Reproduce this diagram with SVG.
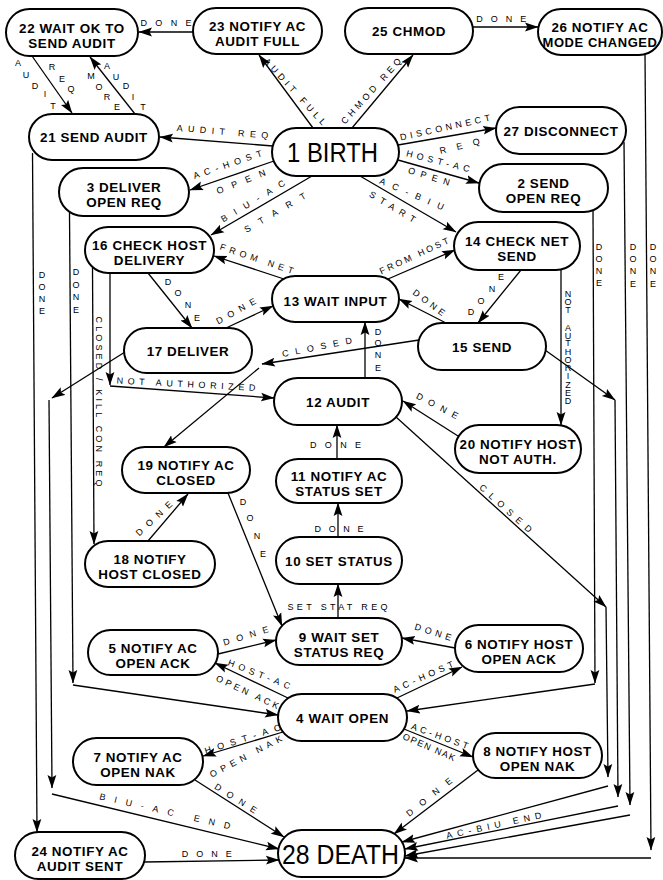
<svg xmlns="http://www.w3.org/2000/svg" width="663" height="880" viewBox="0 0 663 880">
<defs>
<marker id="ah" markerWidth="14" markerHeight="10" refX="13" refY="5" orient="auto" markerUnits="userSpaceOnUse"><path d="M0,0.6 L13.5,5 L0,9.4 L2.5,5 z" fill="#000"/></marker>
</defs>
<style>
.node rect{fill:#fff;stroke:#000;stroke-width:2}
.node text{font-family:"Liberation Sans",Arial,sans-serif;font-weight:bold;font-size:13.4px;letter-spacing:0.6px;text-anchor:middle;fill:#000}
.node text.big{font-weight:normal;font-size:28px;letter-spacing:0}
#edges path{fill:none;stroke:#000;stroke-width:1.3;marker-end:url(#ah)}
.lb{font-family:"Liberation Sans",Arial,sans-serif;font-size:9px;text-anchor:middle;fill:#000}
</style>
<rect width="663" height="880" fill="#fff"/>

<!-- transitions -->
<g id="edges">
<path d="M193,32 L139,32"/>
<path d="M32,56 L72,113"/>
<path d="M135,114 L90,57"/>
<path d="M313,128 L259,55"/>
<path d="M352,128 L413,55"/>
<path d="M473,27 L538,27"/>
<path d="M273,146 L160,137"/>
<path d="M274,161 L190,190"/>
<path d="M312,176 L211,235"/>
<path d="M398,145 L496,128"/>
<path d="M398,160 L479,183"/>
<path d="M360,176 L456,232"/>
<path d="M32.5,153 L37,832"/>
<path d="M69.5,213 L73,683"/>
<path d="M73,685 L278,715"/>
<path d="M92.5,268 L94,544"/>
<path d="M110,273 L110,385"/>
<path d="M110,386 L274,398"/>
<path d="M148,273 L192,328"/>
<path d="M226,328 L273,306"/>
<path d="M284,279 L214,256"/>
<path d="M388,279 L455,250"/>
<path d="M521,270 L478,323"/>
<path d="M446,323 L399,299"/>
<path d="M419,340 L262,364"/>
<path d="M259,368 L164,447"/>
<path d="M365,378 L365,322"/>
<path d="M337,459 L337,425"/>
<path d="M338,537 L338,503"/>
<path d="M338,618 L338,584"/>
<path d="M228,493 L282,626"/>
<path d="M148,541 L188,494"/>
<path d="M218,654 L276,640"/>
<path d="M455,648 L402,638"/>
<path d="M396,417 L606,607"/>
<path d="M606,607 L608,777"/>
<path d="M608,786 L402,842"/>
<path d="M458,436 L403,401"/>
<path d="M561,270 L561,425"/>
<path d="M545,350 L615,400"/>
<path d="M615,400 L618,797"/>
<path d="M618,806 L405,849"/>
<path d="M125,352 L52,398"/>
<path d="M49,400 L52,788"/>
<path d="M52,794 L279,849"/>
<path d="M593,210 L595,683"/>
<path d="M595,684 L407,711"/>
<path d="M624,142 L630,805"/>
<path d="M630,815 L405,856"/>
<path d="M645,54 L651,850"/>
<path d="M651,858 L405,858"/>
<path d="M288,698 L215,663"/>
<path d="M397,698 L462,667"/>
<path d="M283,732 L203,756"/>
<path d="M404,729 L473,757"/>
<path d="M195,780 L284,837"/>
<path d="M478,770 L394,834"/>
<path d="M144,862 L279,860"/>
</g>

<!-- transition labels -->
<g id="labels">
<text class="lb" transform="translate(166 23)" y="3.2" textLength="51" lengthAdjust="spacing">DONE</text>
<text class="lb" x="18 26 35 45 53 52 52 62 71" y="66.2 78.2 89.2 97.2 109.2 70.2 70.2 82.2 92.2">AUDIT REQ</text>
<text class="lb" x="91 99 107 117 107 107 116 126 133 143" y="79.2 90.2 100.2 110.2 69.2 69.2 80.2 89.2 100.2 110.2">MORE AUDIT</text>
<text class="lb" transform="translate(295 91.5) rotate(47.5)" y="3.2" textLength="87" lengthAdjust="spacing">AUDIT FULL</text>
<text class="lb" transform="translate(371 91) rotate(-48)" y="3.2" textLength="85" lengthAdjust="spacing">CHMOD REQ</text>
<text class="lb" transform="translate(222.5 131.5) rotate(4.7)" y="3.2" textLength="92" lengthAdjust="spacing">AUDIT REQ</text>
<text class="lb" transform="translate(227.5 164.5) rotate(-18.7)" y="3.2" textLength="72" lengthAdjust="spacing">AC-HOST</text>
<text class="lb" transform="translate(241 181.7) rotate(-21.8)" y="3.2" textLength="52" lengthAdjust="spacing">OPEN</text>
<text class="lb" transform="translate(253 201) rotate(-31)" y="3.2" textLength="73" lengthAdjust="spacing">BIU-AC</text>
<text class="lb" transform="translate(275 212.5) rotate(-30.3)" y="3.2" textLength="70" lengthAdjust="spacing">START</text>
<text class="lb" transform="translate(445 127.5) rotate(-12.5)" y="3.2" textLength="92" lengthAdjust="spacing">DISCONNECT</text>
<text class="lb" transform="translate(459.7 146) rotate(-14)" y="3.2" textLength="41" lengthAdjust="spacing">REQ</text>
<text class="lb" transform="translate(438 161) rotate(14.3)" y="3.2" textLength="65" lengthAdjust="spacing">HOST-AC</text>
<text class="lb" transform="translate(429 176.3) rotate(17)" y="3.2" textLength="43" lengthAdjust="spacing">OPEN</text>
<text class="lb" transform="translate(411.7 193.8) rotate(23.2)" y="3.2" textLength="69" lengthAdjust="spacing">AC-BIU</text>
<text class="lb" transform="translate(392.5 206.7) rotate(31)" y="3.2" textLength="52" lengthAdjust="spacing">START</text>
<text class="lb" transform="translate(501.3 18.3)" y="3.2" textLength="50" lengthAdjust="spacing">DONE</text>
<text class="lb" x="42 42 42 42" y="278.2 290.2 302.2 314.2">DONE</text>
<text class="lb" x="76 76 76 76" y="275.2 287.7 300.2 312.7">DONE</text>
<text class="lb" transform="translate(99 401.5) rotate(90)" y="3.2" textLength="170" lengthAdjust="spacing">CLOSED / KILL CON REQ</text>
<text class="lb" transform="translate(186 384) rotate(3)" y="3.2" textLength="139" lengthAdjust="spacing">NOT AUTHORIZED</text>
<text class="lb" x="168 178 188 197" y="285.2 296.2 308.2 321.2">DONE</text>
<text class="lb" transform="translate(236 311) rotate(-29)" y="3.2" textLength="44" lengthAdjust="spacing">DONE</text>
<text class="lb" transform="translate(256.7 258.7) rotate(18.8)" y="3.2" textLength="77" lengthAdjust="spacing">FROM NET</text>
<text class="lb" transform="translate(414 255.8) rotate(-24.8)" y="3.2" textLength="75" lengthAdjust="spacing">FROM HOST</text>
<text class="lb" x="471 481 492 501" y="315.2 304.2 292.2 280.2">DONE</text>
<text class="lb" transform="translate(429 302.5) rotate(37)" y="3.2" textLength="37.5" lengthAdjust="spacing">DONE</text>
<text class="lb" transform="translate(317 347) rotate(-11)" y="3.2" textLength="71" lengthAdjust="spacing">CLOSED</text>
<text class="lb" x="378 378 378 378" y="335.2 346.2 358.2 371.2">DONE</text>
<text class="lb" transform="translate(335.5 445)" y="3.2" textLength="51" lengthAdjust="spacing">DONE</text>
<text class="lb" transform="translate(339 528.3)" y="3.2" textLength="49" lengthAdjust="spacing">DONE</text>
<text class="lb" transform="translate(337.5 606.7)" y="3.2" textLength="100" lengthAdjust="spacing">SET STAT REQ</text>
<text class="lb" x="243 250 257 263" y="505.2 521.2 539.2 557.2">DONE</text>
<text class="lb" transform="translate(154 518.5) rotate(-43)" y="3.2" textLength="46" lengthAdjust="spacing">DONE</text>
<text class="lb" transform="translate(245.8 635.8) rotate(-17)" y="3.2" textLength="47" lengthAdjust="spacing">DONE</text>
<text class="lb" transform="translate(433 632) rotate(17.6)" y="3.2" textLength="38" lengthAdjust="spacing">DONE</text>
<text class="lb" transform="translate(505.8 508.3) rotate(42)" y="3.2" textLength="67" lengthAdjust="spacing">CLOSED</text>
<text class="lb" transform="translate(437.3 405.8) rotate(27.8)" y="3.2" textLength="46" lengthAdjust="spacing">DONE</text>
<text class="lb" x="568 568 568 568 568 568 568 568 568 568 568 568 568 568" y="297.2 305.2 313.2 322 331.2 339.2 346.2 355.2 363.2 371.2 379.2 388.2 396.2 404.2">NOT AUTHORIZED</text>
<text class="lb" x="599 599 599 599" y="250.2 262.2 274.2 286.2">DONE</text>
<text class="lb" x="633 633 633 633" y="250.2 262.2 274.2 287.2">DONE</text>
<text class="lb" x="653 653 653 653" y="250.2 262.2 274.2 287.2">DONE</text>
<text class="lb" transform="translate(259.2 674.2) rotate(21.5)" y="3.2" textLength="66" lengthAdjust="spacing">HOST-AC</text>
<text class="lb" transform="translate(247.5 692) rotate(25)" y="3.2" textLength="68" lengthAdjust="spacing">OPEN ACK</text>
<text class="lb" transform="translate(423.2 676.7) rotate(-23.7)" y="3.2" textLength="65" lengthAdjust="spacing">AC-HOST</text>
<text class="lb" transform="translate(242.5 739) rotate(-17.6)" y="3.2" textLength="79" lengthAdjust="spacing">HOST-AC</text>
<text class="lb" transform="translate(245.8 756.3) rotate(-27.6)" y="3.2" textLength="80" lengthAdjust="spacing">OPEN NAK</text>
<text class="lb" transform="translate(439.8 736) rotate(19.6)" y="3.2" textLength="60" lengthAdjust="spacing">AC-HOST</text>
<text class="lb" transform="translate(429 747) rotate(23.5)" y="3.2" textLength="56" lengthAdjust="spacing">OPEN NAK</text>
<text class="lb" transform="translate(235.8 798.3) rotate(32)" y="3.2" textLength="48" lengthAdjust="spacing">DONE</text>
<text class="lb" transform="translate(429 797) rotate(-38.8)" y="3.2" textLength="56" lengthAdjust="spacing">DONE</text>
<text class="lb" transform="translate(165 811) rotate(12.9)" y="3.2" textLength="134" lengthAdjust="spacing">BIU-AC END</text>
<text class="lb" transform="translate(493.8 825.3) rotate(-12.3)" y="3.2" textLength="97" lengthAdjust="spacing">AC-BIU END</text>
<text class="lb" transform="translate(206.7 854)" y="3.2" textLength="50" lengthAdjust="spacing">DONE</text>
</g>

<!-- states -->
<g id="n22" class="node"><rect x="6" y="9" width="132" height="47" rx="23.5"/><text><tspan x="72" y="32.5">22 WAIT OK TO</tspan><tspan x="72" y="47.5">SEND AUDIT</tspan></text></g>
<g id="n23" class="node"><rect x="193" y="8" width="129" height="46" rx="23"/><text><tspan x="257.5" y="31">23 NOTIFY AC</tspan><tspan x="257.5" y="46">AUDIT FULL</tspan></text></g>
<g id="n25" class="node"><rect x="345" y="8" width="128" height="46" rx="23"/><text x="409" y="36">25 CHMOD</text></g>
<g id="n26" class="node"><rect x="538" y="9" width="124" height="46" rx="23"/><text><tspan x="600" y="32">26 NOTIFY AC</tspan><tspan x="600" y="47" textLength="115" lengthAdjust="spacingAndGlyphs">MODE CHANGED</tspan></text></g>
<g id="n21" class="node"><rect x="29" y="114" width="130" height="46" rx="23"/><text x="94" y="142">21 SEND AUDIT</text></g>
<g id="n1" class="node"><rect x="272" y="128" width="127" height="48" rx="24"/><text class="big" x="332.5" y="162" textLength="91" lengthAdjust="spacingAndGlyphs">1 BIRTH</text></g>
<g id="n27" class="node"><rect x="496" y="107" width="130" height="47" rx="23.5"/><text x="561" y="135.5">27 DISCONNECT</text></g>
<g id="n3" class="node"><rect x="59" y="168" width="130" height="48" rx="24"/><text><tspan x="124" y="192">3 DELIVER</tspan><tspan x="124" y="207">OPEN REQ</tspan></text></g>
<g id="n2" class="node"><rect x="479" y="164" width="129" height="48" rx="24"/><text><tspan x="543.5" y="188">2 SEND</tspan><tspan x="543.5" y="203">OPEN REQ</tspan></text></g>
<g id="n16" class="node"><rect x="85" y="227" width="129" height="46" rx="23"/><text><tspan x="149.5" y="250">16 CHECK HOST</tspan><tspan x="149.5" y="265">DELIVERY</tspan></text></g>
<g id="n14" class="node"><rect x="454" y="222" width="126" height="48" rx="24"/><text><tspan x="517" y="246">14 CHECK NET</tspan><tspan x="517" y="261">SEND</tspan></text></g>
<g id="n13" class="node"><rect x="272" y="276" width="127" height="46" rx="23"/><text x="335.5" y="305.5">13 WAIT INPUT</text></g>
<g id="n17" class="node"><rect x="124" y="328" width="128" height="45" rx="22.5"/><text x="188" y="355.5">17 DELIVER</text></g>
<g id="n15" class="node"><rect x="418" y="323" width="128" height="47" rx="23.5"/><text x="482" y="351.5">15 SEND</text></g>
<g id="n12" class="node"><rect x="274" y="378" width="128" height="47" rx="23.5"/><text x="338" y="406.5">12 AUDIT</text></g>
<g id="n20" class="node"><rect x="455" y="425" width="126" height="48" rx="24"/><text><tspan x="518" y="449">20 NOTIFY HOST</tspan><tspan x="518" y="464">NOT AUTH.</tspan></text></g>
<g id="n19" class="node"><rect x="122" y="447" width="128" height="46" rx="23"/><text><tspan x="186" y="470">19 NOTIFY AC</tspan><tspan x="186" y="485">CLOSED</tspan></text></g>
<g id="n11" class="node"><rect x="276" y="459" width="126" height="44" rx="22"/><text><tspan x="339" y="481">11 NOTIFY AC</tspan><tspan x="339" y="496">STATUS SET</tspan></text></g>
<g id="n18" class="node"><rect x="85" y="541" width="130" height="46" rx="23"/><text><tspan x="150" y="564">18 NOTIFY</tspan><tspan x="150" y="579">HOST CLOSED</tspan></text></g>
<g id="n10" class="node"><rect x="276" y="537" width="126" height="47" rx="23.5"/><text x="339" y="565.5">10 SET STATUS</text></g>
<g id="n9" class="node"><rect x="276" y="618" width="126" height="47" rx="23.5"/><text><tspan x="339" y="641.5">9 WAIT SET</tspan><tspan x="339" y="656.5">STATUS REQ</tspan></text></g>
<g id="n5" class="node"><rect x="88" y="630" width="130" height="45" rx="22.5"/><text><tspan x="153" y="652.5">5 NOTIFY AC</tspan><tspan x="153" y="667.5">OPEN ACK</tspan></text></g>
<g id="n6" class="node"><rect x="455" y="625" width="128" height="47" rx="23.5"/><text><tspan x="519" y="648.5">6 NOTIFY HOST</tspan><tspan x="519" y="663.5">OPEN ACK</tspan></text></g>
<g id="n4" class="node"><rect x="278" y="694" width="129" height="47" rx="23.5"/><text x="342.5" y="722.5">4 WAIT OPEN</text></g>
<g id="n7" class="node"><rect x="73" y="738" width="130" height="47" rx="23.5"/><text><tspan x="138" y="761.5">7 NOTIFY AC</tspan><tspan x="138" y="776.5">OPEN NAK</tspan></text></g>
<g id="n8" class="node"><rect x="473" y="733" width="129" height="45" rx="22.5"/><text><tspan x="537.5" y="755.5">8 NOTIFY HOST</tspan><tspan x="537.5" y="770.5">OPEN NAK</tspan></text></g>
<g id="n24" class="node"><rect x="15" y="832" width="130" height="47" rx="23.5"/><text><tspan x="80" y="855.5">24 NOTIFY AC</tspan><tspan x="80" y="870.5">AUDIT SENT</tspan></text></g>
<g id="n28" class="node"><rect x="278" y="830" width="127" height="47" rx="23.5"/><text class="big" x="340.5" y="863.5" textLength="117" lengthAdjust="spacingAndGlyphs">28 DEATH</text></g>
</svg>
